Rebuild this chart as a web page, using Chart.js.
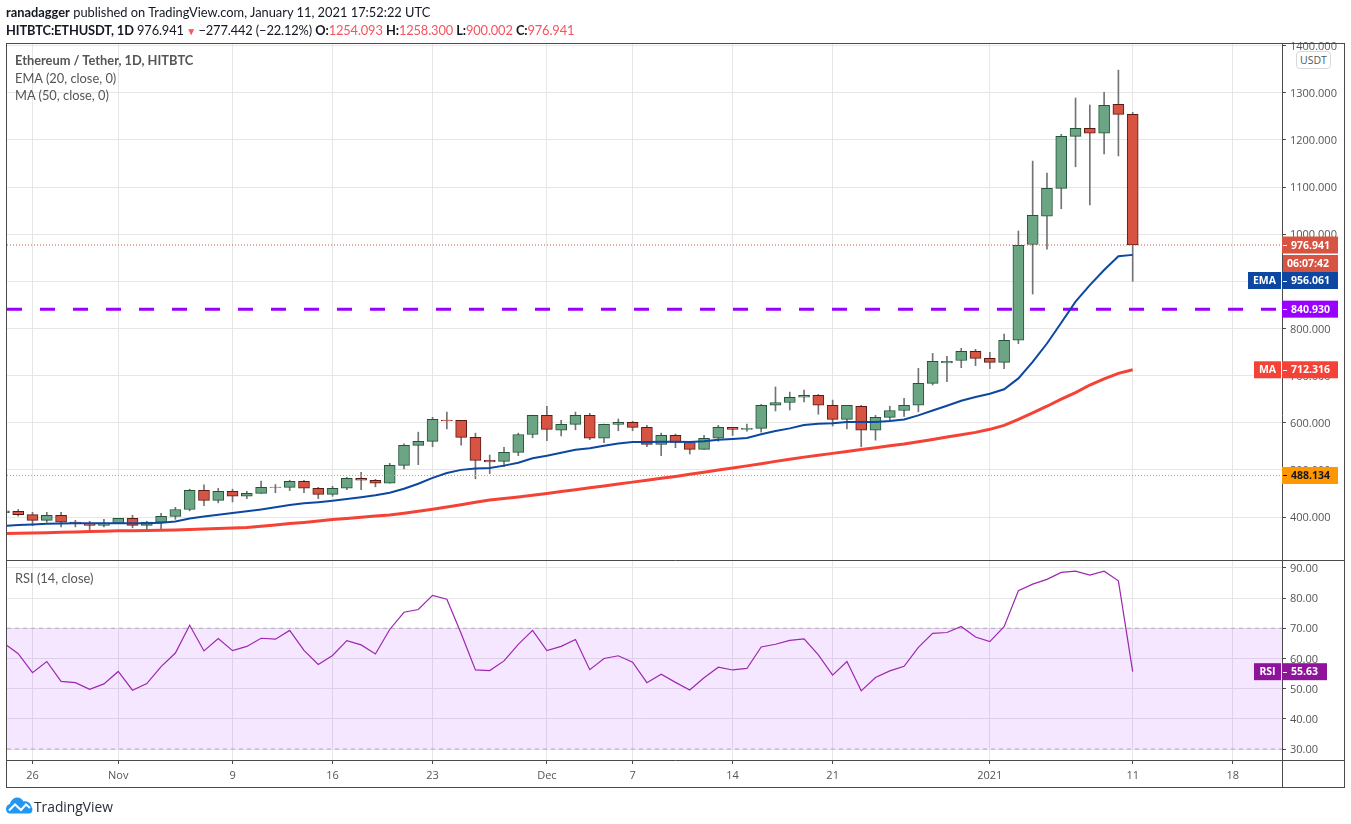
<!DOCTYPE html>
<html><head><meta charset="utf-8">
<script src="https://cdn.jsdelivr.net/npm/chart.js@4/dist/chart.umd.min.js"></script>
<style>
html,body{margin:0;padding:0;background:#fff;width:1351px;height:824px;overflow:hidden}
#wrap{position:relative;width:1351px;height:824px}
canvas{position:absolute;left:0;top:0}
.t{position:absolute;white-space:nowrap;font-family:Lato,sans-serif;color:#131722;font-size:12.85px}
.r{color:#f7525f}
.g{color:#555}
</style></head><body>
<div id="wrap">
<canvas id="c" width="1351" height="824"></canvas>
<div class="t" style="left:6px;top:4px"><b>ranadagger</b> published on TradingView.com, January 11, 2021 17:52:22 UTC</div>
<div class="t" style="left:6px;top:22px;letter-spacing:-0.13px"><b>HITBTC:ETHUSDT, 1D</b> 976.941<span class="r" style="font-size:10px"> ▼ </span>−277.442 (−22.12%) <b>O:</b><span class="r">1254.093</span> <b>H:</b><span class="r">1258.300</span> <b>L:</b><span class="r">900.002</span> <b>C:</b><span class="r">976.941</span></div>
<div class="t g" style="left:15px;top:52px;font-weight:700">Ethereum / Tether, 1D, HITBTC</div>
<div class="t g" style="left:15px;top:70px">EMA (20, close, 0)</div>
<div class="t g" style="left:15px;top:87px">MA (50, close, 0)</div>
<div class="t g" style="left:15px;top:570px">RSI (14, close)</div>
<div class="t g" style="left:1296px;top:51px;width:33px;height:16px;line-height:16px;border:1px solid #d6d8e0;border-radius:4px;text-align:center;font-size:10.5px;background:#fff;font-family:'Open Sans',sans-serif">USDT</div>
<svg style="position:absolute;left:6px;top:797px" width="27" height="17" viewBox="0 0 27 17"><path fill="#2196f3" d="M0 12 C0 9 2 7.5 4 7 C5 3 8 0.5 11 0.5 C14 0.5 16 2 17.5 4.5 C21 3.5 25 6 25.5 10 C27 11 27 16.5 23 16.5 L4 16.5 C1.5 16.5 0 14.5 0 12 Z"/><path fill="none" stroke="#fff" stroke-width="2" d="M3 13.5 L9 7.5 L15 13 L20 7.5 L24 11"/></svg>
<div class="t" style="left:34px;top:797px;font-size:13.8px;color:#2a2e39;font-family:'Open Sans',sans-serif">TradingView</div>
</div>
<script>
const days = [-2,-1,0,1,2,3,4,5,6,7,8,9,10,11,12,13,14,15,16,17,18,19,20,21,22,23,24,25,26,27,28,29,30,31,32,33,34,35,36,37,38,39,40,41,42,43,44,45,46,47,48,49,50,51,52,53,54,55,56,57,58,59,60,61,62,63,64,65,66,67,68,69,70,71,72,73,74,75,76,77];
const opens = [409,412,405,393,403.6,389,386.6,382.4,386.6,397,382.4,389,401.5,416,456.6,435.4,454.5,444,450,463.5,463,475.7,461,448,461,482,478,471.6,509.6,552,560.6,605.8,605,569,520,518,537,575,615.6,584,596.6,615.6,567,596.6,600.8,590,554,573,558,543.6,567,590,586,588,637,643,654,658,637,607,635,584,611.5,626,637,683.6,727,732,751.5,736.6,728,775,978,1038,1097,1207.6,1224.6,1214,1275.6,1254.093];
const closes = [413,405,393,403.6,389,386,382.4,386.6,397,382.4,389,401.5,416,456.6,435.4,454.5,444,450,463,463,475.7,461,448,461,482,478,471.6,509.6,552,560.6,607,604,569,520,517,537,575,615.6,586,596.6,615.6,567,596.6,600.8,590,554,573,558,543.6,567,590,586,588,637,643,654,658,637,607,637,584,611.5,626,637,683.6,730,730,751.5,736.6,728,775,976.4,1040,1097,1207.6,1224.6,1214,1273.5,1254,976.941];
const highs = [416,416,410,410,410,393,391,395,397,403.6,391,408,420.6,459,468,461,459,454.5,476,469,478,478,463,465,484,495,480,514,555,580,611.5,622.7,605,578,531.5,548,578,616,635,605,622.7,620,597,607.9,603,594.5,578,576,559.7,573,594.5,590,597,639,675.8,665,669,660,648,637,637,615.6,635,652,715.4,747,741,757.8,755.7,749.4,788,1006.7,1155,1129.6,1211.8,1288.8,1274,1301,1348,1258.3];
const lows = [405,402,381.5,389,379,379,373,379,386,377,370,375,395,413,424,430,432,439,450,451.5,456,451.5,439,444,458,458,464,471.6,502,511,549,587,552.6,481,492,506.7,530,568,562,572,585,564,557.6,583,583,549,530,547,533.6,543.6,560.6,573,582,580,624.9,627,644,618,593,586.6,549,563,605,613.6,623,680,687,716.7,721,714.6,714.6,767.6,873,968,1054,1143,1062,1170,1166,900.002];
const emaValues = [381,383,384,385.5,386,386.5,386.5,386.7,387,386.5,386.5,388,390.5,397,401,405,408.5,412,416,420.5,425.5,429,431.5,434.5,438,442,446,451.5,460,470.6,483,493.5,500,503,504,509,515,524.5,530,536.4,542.5,546,551,556,559,559,559.7,559.7,559,560.6,564,565.5,567.6,575.4,582.4,588,595,597.9,598.7,601.5,601.5,601.5,603.6,607,615.6,626,635.9,646.7,654.6,661.6,671,694,729,768,812,856.7,892,924,953,956.061];
const maValues = [365,365.5,366,366.6,367.5,368.2,369,369.8,370.6,371,371.3,371.8,372.5,373.5,374.5,375.6,376.6,378,380.5,383,386,388.5,391.5,394.5,397,399.5,402,404.5,408,412,416.5,421,426,431.5,436,439.5,442.5,446,450,454,458,462,466,470,474,478,482,486,490.5,495,499.5,504,508.5,513,518,522.5,527,531,535,539,543,547,551,555,559.7,564.5,569.5,574.5,579.5,586,594.5,607,621,635,650,664,680,693,704.8,712.316];
const rsiValues = [65,61.6,55.3,59,52.4,52,49.8,51.6,55.7,49.5,51.7,57.3,61.8,71,62.5,66.6,62.6,64,66.7,66.4,69.3,62.7,58,61,65.9,64.5,61.5,69.6,75.3,76.2,80.9,79.6,68.3,56.2,56,59.2,64.7,69.3,62.6,64,66.3,56.3,60,60.9,58.8,52,54.8,52.1,49.6,53.6,57.1,56.2,56.7,63.8,64.7,66,66.5,61.2,54.5,59,49.3,53.7,55.9,57.4,63.7,68.3,68.6,70.6,67.1,65.6,70.5,82.4,84.6,86.2,88.5,88.9,87.6,88.9,85.7,55.63];
const dateTickDays = [0,6,14,21,28,36,42,49,56,67,77,84];
const dateTickLabels = ['26','Nov','9','16','23','Dec','7','14','21','2021','11','18'];
const priceTicks = [400,500,600,700,800,900,1000,1100,1200,1300,1400];
const rsiTicks = [30,40,50,60,70,80,90];
const resistance = 840.93, lastClose = 976.941, support = 488.134, rsiUpper = 70, rsiLower = 30;
const xMin = -1.785, xMax = 87.45;

const UP='#6ba583', UPB='#225437', DN='#d75442', DNB='#5b1a13', WICK='#737375';
const pts = a => days.map((d,i)=>({x:d,y:a[i]}));
const ends = v => [{x:xMin,y:v},{x:xMax,y:v}];
const up = days.map((d,i)=>closes[i]>=opens[i]);
const fixed = (w)=>function(s){s.width=w};
const TXT='#555';
const tickFont = {family:'"Open Sans",sans-serif',size:11};

const boxes = {
 id:'boxes',
 afterDraw(ch){
  const c=ch.ctx, Y=ch.scales.y, R=ch.scales.rsi;
  c.save();
  c.strokeStyle='#4a4a4a'; c.lineWidth=1;
  c.strokeRect(6.5,43.5,1338,744);
  c.beginPath();
  c.moveTo(1282.5,43.5);c.lineTo(1282.5,787.5);
  c.moveTo(6.5,560.5);c.lineTo(1344.5,560.5);
  c.moveTo(6.5,760.5);c.lineTo(1344.5,760.5);
  c.stroke();
  c.textBaseline='middle'; c.font='bold 10.5px "Open Sans",sans-serif'; c.textAlign='left';
  function box(yc,text,bg,fg,tag,tagLeft,right){
    right=right||1338;
    if(tag){c.fillStyle=bg;c.fillRect(tagLeft,yc-8.5,1281-tagLeft,17);
      c.fillStyle=fg;c.textAlign='center';c.fillText(tag,(tagLeft+1281)/2,yc+.5);c.textAlign='left';}
    c.fillStyle=bg;c.fillRect(1282,yc-8.5,right-1282,17);
    c.fillStyle=fg;c.fillText(text,1291,yc+.5);
    c.strokeStyle=fg;c.beginPath();c.moveTo(1283,Math.round(yc)+.5);c.lineTo(1287,Math.round(yc)+.5);c.stroke();
  }
  const ema=emaValues[emaValues.length-1], ma=maValues[maValues.length-1], rsi=rsiValues[rsiValues.length-1];
  box(Y.getPixelForValue(lastClose),lastClose.toFixed(3),DN,'#fff');
  c.fillStyle=DN;c.fillRect(1283,255,55,17);
  c.fillStyle='#fff';c.fillText('06:07:42',1287,264);
  box(280.5,ema.toFixed(3),'#0d47a1','#fff','EMA',1248);
  box(Y.getPixelForValue(resistance),resistance.toFixed(3),'#9900ff','#fff');
  box(Y.getPixelForValue(ma),ma.toFixed(3),'#f44336','#fff','MA',1254);
  box(Y.getPixelForValue(support),support.toFixed(3),'#ff9800','#131722');
  box(R.getPixelForValue(rsi),rsi.toFixed(2),'#8e1599','#fff','RSI',1254,1327);
  c.restore();
 }
};

new Chart(document.getElementById('c'),{
 data:{datasets:[
  {type:'bar',yAxisID:'y',grouped:false,order:6,data:days.map((d,i)=>({x:d,y:[lows[i],highs[i]]})),backgroundColor:WICK,barThickness:1},
  {type:'bar',yAxisID:'y',grouped:false,order:5,data:days.map((d,i)=>({x:d,y:[opens[i],closes[i]]})),
   backgroundColor:up.map(u=>u?UP:DN),borderColor:up.map(u=>u?UPB:DNB),borderWidth:1,borderSkipped:false,barThickness:11},
  {type:'line',yAxisID:'y',order:3,data:ends(lastClose),borderColor:DN,borderWidth:1,borderDash:[1,2],pointRadius:0},
  {type:'line',yAxisID:'y',order:3,data:ends(support),borderColor:'#ff9800',borderWidth:1,borderDash:[1,2],pointRadius:0},
  {type:'line',yAxisID:'y',order:2,data:ends(resistance),borderColor:'#9900ff',borderWidth:3,borderDash:[15,18],pointRadius:0},
  {type:'line',yAxisID:'y',order:1,data:pts(emaValues),borderColor:'#0d47a1',borderWidth:2,pointRadius:0,tension:0},
  {type:'line',yAxisID:'y',order:1,data:pts(maValues),borderColor:'#f44336',borderWidth:3,pointRadius:0,tension:0},
  {type:'line',yAxisID:'rsi',order:4,data:ends(rsiUpper),borderColor:'#b2a8bb',borderWidth:1,borderDash:[4,4],pointRadius:0,fill:{target:{value:rsiLower}},backgroundColor:'rgba(153,21,255,0.1)'},
  {type:'line',yAxisID:'rsi',order:4,data:ends(rsiLower),borderColor:'#b2a8bb',borderWidth:1,borderDash:[4,4],pointRadius:0},
  {type:'line',yAxisID:'rsi',order:1,data:pts(rsiValues),borderColor:'#9c27b0',borderWidth:1.2,pointRadius:0,tension:0}
 ]},
 plugins:[boxes],
 options:{
  responsive:false,animation:false,events:[],
  layout:{padding:{left:7,top:44,right:7,bottom:37}},
  plugins:{legend:{display:false},tooltip:{enabled:false}},
  scales:{
   x:{type:'linear',position:'bottom',min:xMin,max:xMax,offset:false,
    afterBuildTicks(s){s.ticks=dateTickDays.map(v=>({value:v}))},
    afterFit(s){s.height=27},
    border:{display:false},
    grid:{color:'#e6e6e6',lineWidth:1,tickColor:'#4a4a4a',tickLength:4,drawTicks:true,offset:false},
    ticks:{autoSkip:false,maxRotation:0,color:TXT,padding:5,font:tickFont,
      callback(v){const i=dateTickDays.indexOf(v);return i<0?'':dateTickLabels[i]}}
   },
   y:{type:'linear',axis:'y',position:'right',stack:'p',stackWeight:516,min:308.8,max:1403.4,
    afterBuildTicks(s){s.ticks=priceTicks.map(v=>({value:v}))},
    afterFit:fixed(62),
    border:{display:false},
    grid:{color:'#e6e6e6',tickColor:'#4a4a4a',tickLength:4},
    ticks:{autoSkip:false,color:TXT,padding:4,labelOffset:1,font:tickFont,callback:v=>v.toFixed(3)}
   },
   rsi:{type:'linear',axis:'y',position:'right',stack:'p',stackWeight:200,min:26.4,max:92.6,
    afterBuildTicks(s){s.ticks=rsiTicks.map(v=>({value:v}))},
    afterFit:fixed(62),
    border:{display:false},
    grid:{color:'#e6e6e6',tickColor:'#4a4a4a',tickLength:4},
    ticks:{autoSkip:false,color:TXT,padding:4,labelOffset:1,font:tickFont,callback:v=>v.toFixed(2)}
   }
  }
 }
});
</script>
</body></html>
